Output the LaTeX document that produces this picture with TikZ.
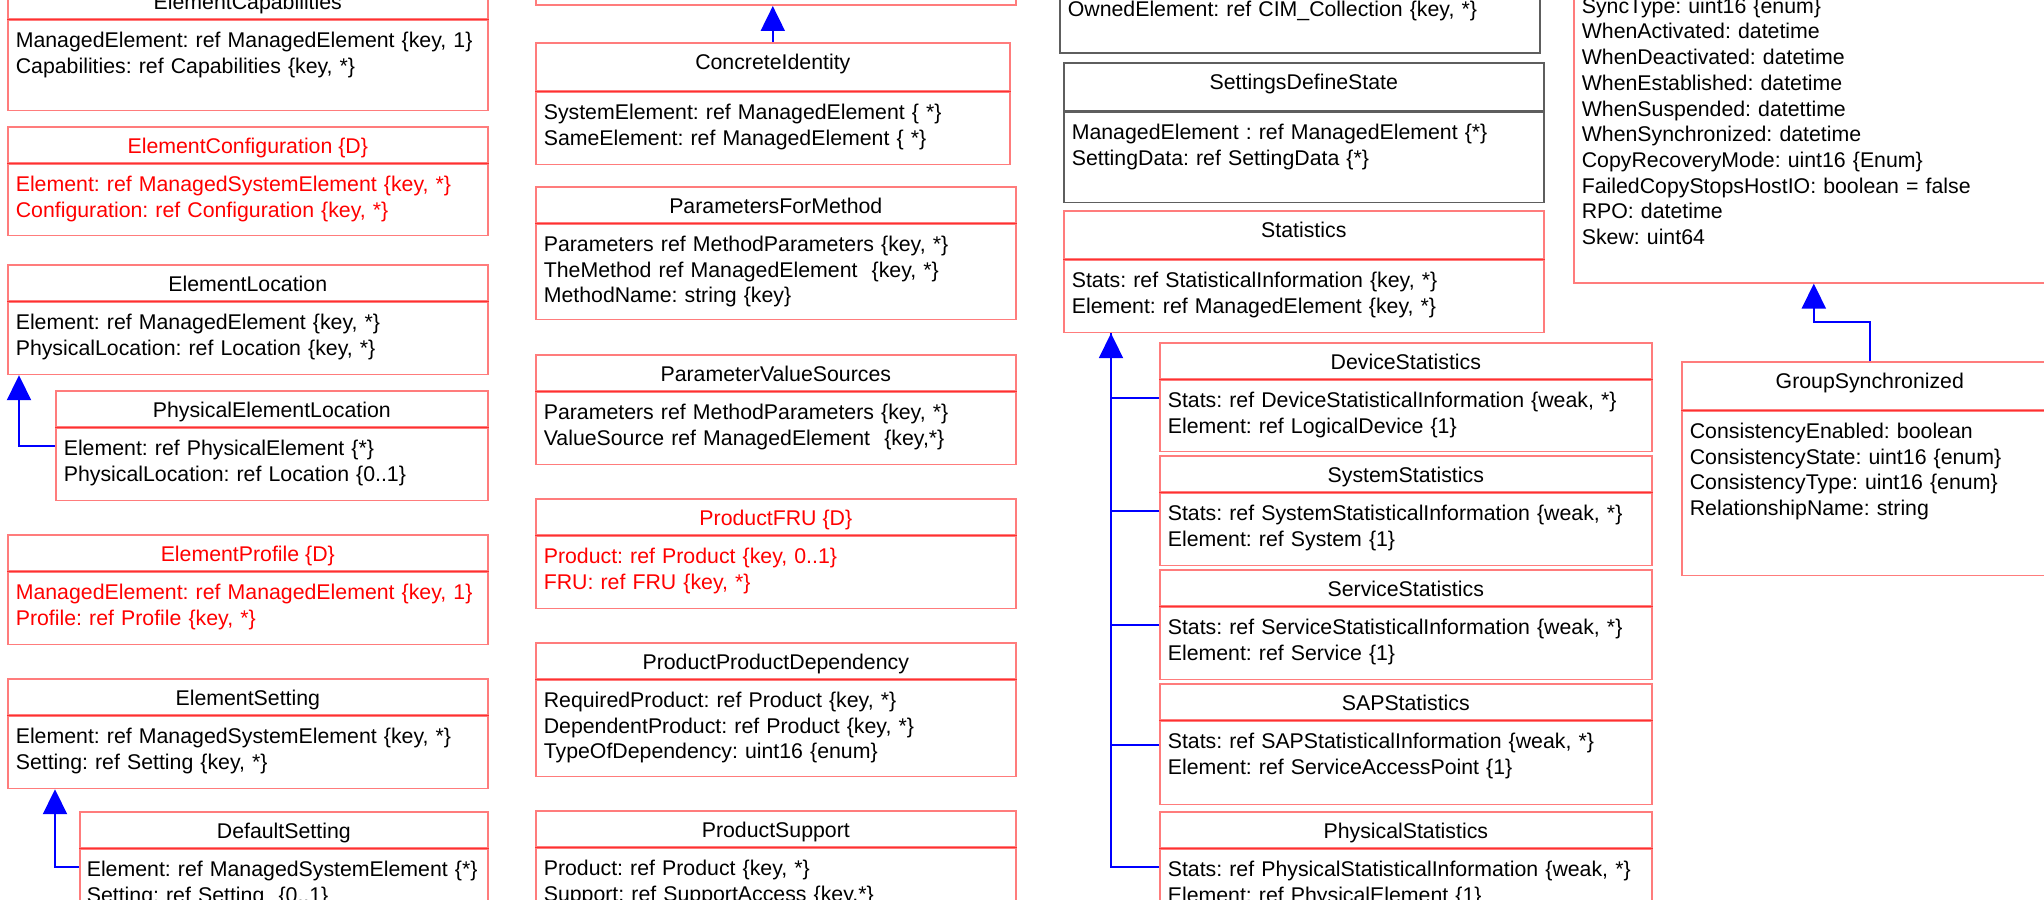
\documentclass[tikz,border=0pt]{standalone}
\usepackage{fontspec}
\setmainfont{Liberation Sans}
\usetikzlibrary{arrows.meta,positioning}
\definecolor{boxred}{HTML}{FF7C7C}
\definecolor{sepred}{HTML}{FF3030}
\definecolor{boxgray}{HTML}{5E5E5E}
\definecolor{inhblue}{HTML}{0000FF}
\frenchspacing

\begin{document}
\begin{tikzpicture}[x=1pt,y=-1pt,
  font=\fontsize{21.3}{25.7}\selectfont,
  cls/.style={draw=boxred,line width=1.6pt,minimum width=#1,anchor=north west,inner sep=0pt,text height=27pt,text depth=9pt},
  tall/.style={text depth=21pt},
  gattr/.style={draw=boxgray,line width=1.6pt,text width=#1-16,align=left,inner xsep=8pt,inner ysep=0pt,text height=27pt,text depth=45pt},
  attr/.style={gattr=#1,draw=boxred,append after command={(\tikzlastnode.north west) edge[sepline] (\tikzlastnode.north east)}},
  sepline/.style={draw=sepred,line width=1.3pt},
  dep/.style={text=red},
  link/.style={draw=inhblue,line width=2pt},
  inh/.style={link,-{Triangle[width=24pt,length=25pt]}}
]
\useasboundingbox (0,0) rectangle (2044,899);
\clip (0,0) rectangle (2044,899);

% left column
\node[cls=480] (capT) at (7,-18) {ElementCapabilities};
\node[attr=480,below=0pt of capT,text depth=63pt] (cap) {ManagedElement: ref ManagedElement \{key, 1\}\\Capabilities: ref Capabilities \{key, *\}};
\node[cls=480,dep] (cfgT) at (7,126) {ElementConfiguration \{D\}};
\node[attr=480,dep,below=0pt of cfgT,text depth=44pt] (cfg) {Element: ref ManagedSystemElement \{key, *\}\\Configuration: ref Configuration \{key, *\}};
\node[cls=480] (elocT) at (7,264) {ElementLocation};
\node[attr=480,below=0pt of elocT] (eloc) {Element: ref ManagedElement \{key, *\}\\PhysicalLocation: ref Location \{key, *\}};
\node[cls=432] (pelT) at (55,390) {PhysicalElementLocation};
\node[attr=432,below=0pt of pelT] (pel) {Element: ref PhysicalElement \{*\}\\PhysicalLocation: ref Location \{0..1\}};
\node[cls=480,dep] (eprofT) at (7,534) {ElementProfile \{D\}};
\node[attr=480,dep,below=0pt of eprofT] (eprof) {ManagedElement: ref ManagedElement \{key, 1\}\\Profile: ref Profile \{key, *\}};
\node[cls=480] (esetT) at (7,678) {ElementSetting};
\node[attr=480,below=0pt of esetT] (eset) {Element: ref ManagedSystemElement \{key, *\}\\Setting: ref Setting \{key, *\}};
\node[cls=408] (dsetT) at (79,811) {DefaultSetting};
\node[attr=408,below=0pt of dsetT,text width=398,inner xsep=5pt] (dset) {\hspace{2pt}Element: ref ManagedSystemElement \{*\}\\\hspace{2pt}Setting: ref Setting \ \{0..1\}};

% second column
\node[draw=boxred,line width=1.6pt,minimum width=480,minimum height=100,anchor=south west] (upper) at (535,6) {};
\node[cls=474,tall] (ciT) at (535,42) {ConcreteIdentity};
\node[attr=474,below=0pt of ciT] (ci) {SystemElement: ref ManagedElement \{ *\}\\SameElement: ref ManagedElement \{ *\}};
\node[cls=480] (pfmT) at (535,186) {ParametersForMethod};
\node[attr=480,below=0pt of pfmT,text depth=68pt] (pfm) {Parameters ref MethodParameters \{key, *\}\\TheMethod ref ManagedElement \ \{key, *\}\\MethodName: string \{key\}};
\node[cls=480] (pvsT) at (535,354) {ParameterValueSources};
\node[attr=480,below=0pt of pvsT] (pvs) {Parameters ref MethodParameters \{key, *\}\\ValueSource ref ManagedElement \ \{key,*\}};
\node[cls=480,dep] (fruT) at (535,498) {ProductFRU \{D\}};
\node[attr=480,dep,below=0pt of fruT] (fru) {Product: ref Product \{key, 0..1\}\\FRU: ref FRU \{key, *\}};
\node[cls=480] (ppdT) at (535,642) {ProductProductDependency};
\node[attr=480,below=0pt of ppdT,text depth=69pt] (ppd) {RequiredProduct: ref Product \{key, *\}\\DependentProduct: ref Product \{key, *\}\\TypeOfDependency: uint16 \{enum\}};
\node[cls=480] (psupT) at (535,810) {ProductSupport};
\node[attr=480,below=0pt of psupT] (psup) {Product: ref Product \{key, *\}\\Support: ref SupportAccess \{key,*\}};

% third column
\node[gattr=480,anchor=north west,text depth=36.5pt] (owned) at (1059,-11.5) {OwnedElement: ref CIM\_Collection \{key, *\}};
\node[cls=480,tall,draw=boxgray] (sdsT) at (1063,62) {SettingsDefineState};
\node[gattr=480,below=0pt of sdsT,text depth=63pt] (sds) {ManagedElement : ref ManagedElement \{*\}\\SettingData: ref SettingData \{*\}};
\node[cls=480,tall] (statT) at (1063,210) {Statistics};
\node[attr=480,below=0pt of statT] (stat) {Stats: ref StatisticalInformation \{key, *\}\\Element: ref ManagedElement \{key, *\}};
\node[cls=492] (devT) at (1159,342) {DeviceStatistics};
\node[attr=492,below=0pt of devT,text depth=44pt] (dev) {Stats: ref DeviceStatisticalInformation \{weak, *\}\\Element: ref LogicalDevice \{1\}};
\node[cls=492] (sysT) at (1159,455) {SystemStatistics};
\node[attr=492,below=0pt of sysT] (sys) {Stats: ref SystemStatisticalInformation \{weak, *\}\\Element: ref System \{1\}};
\node[cls=492] (svcT) at (1159,569) {ServiceStatistics};
\node[attr=492,below=0pt of svcT] (svc) {Stats: ref ServiceStatisticalInformation \{weak, *\}\\Element: ref Service \{1\}};
\node[cls=492] (sapT) at (1159,683) {SAPStatistics};
\node[attr=492,below=0pt of sapT,text depth=56pt] (sap) {Stats: ref SAPStatisticalInformation \{weak, *\}\\Element: ref ServiceAccessPoint \{1\}};
\node[cls=492] (physT) at (1159,811) {PhysicalStatistics};
\node[attr=492,below=0pt of physT] (phys) {Stats: ref PhysicalStatisticalInformation \{weak, *\}\\Element: ref PhysicalElement \{1\}};

% right column
\node[attr=480,anchor=north west,text depth=269.5pt] (stsync) at (1573,-14.5) {SyncType: uint16 \{enum\}\\WhenActivated: datetime\\WhenDeactivated: datetime\\WhenEstablished: datetime\\WhenSuspended: datettime\\WhenSynchronized: datetime\\CopyRecoveryMode: uint16 \{Enum\}\\FailedCopyStopsHostIO: boolean = false\\RPO: datetime\\Skew: uint64};
\node[cls=376,tall] (gsT) at (1681,361) {GroupSynchronized};
\node[attr=376,below=0pt of gsT,text depth=137pt] (gs) {ConsistencyEnabled: boolean\\ConsistencyState: uint16 \{enum\}\\ConsistencyType: uint16 \{enum\}\\RelationshipName: string};

% inheritance
\draw[inh] ([yshift=-18pt]pel.north west) -| ([xshift=12pt]eloc.south west);
\draw[inh] ([yshift=-18pt]dset.north west) -| ([xshift=48pt]eset.south west);
\draw[inh] (ciT.north) -- (ciT.north |- upper.south);
\draw[link] ([yshift=-18pt]dev.north west) -| ([xshift=48pt]stat.south west);
\draw[link] ([yshift=-18pt]sys.north west) -| ([xshift=48pt]stat.south west);
\draw[link] ([yshift=-18pt]svc.north west) -| ([xshift=48pt]stat.south west);
\draw[link] ([yshift=-24pt]sap.north west) -| ([xshift=48pt]stat.south west);
\draw[inh] ([yshift=-18pt]phys.north west) -| ([xshift=48pt]stat.south west);
\draw[inh] (gsT.north) -- ++(0,-39) -| (stsync.south);
\end{tikzpicture}
\end{document}
